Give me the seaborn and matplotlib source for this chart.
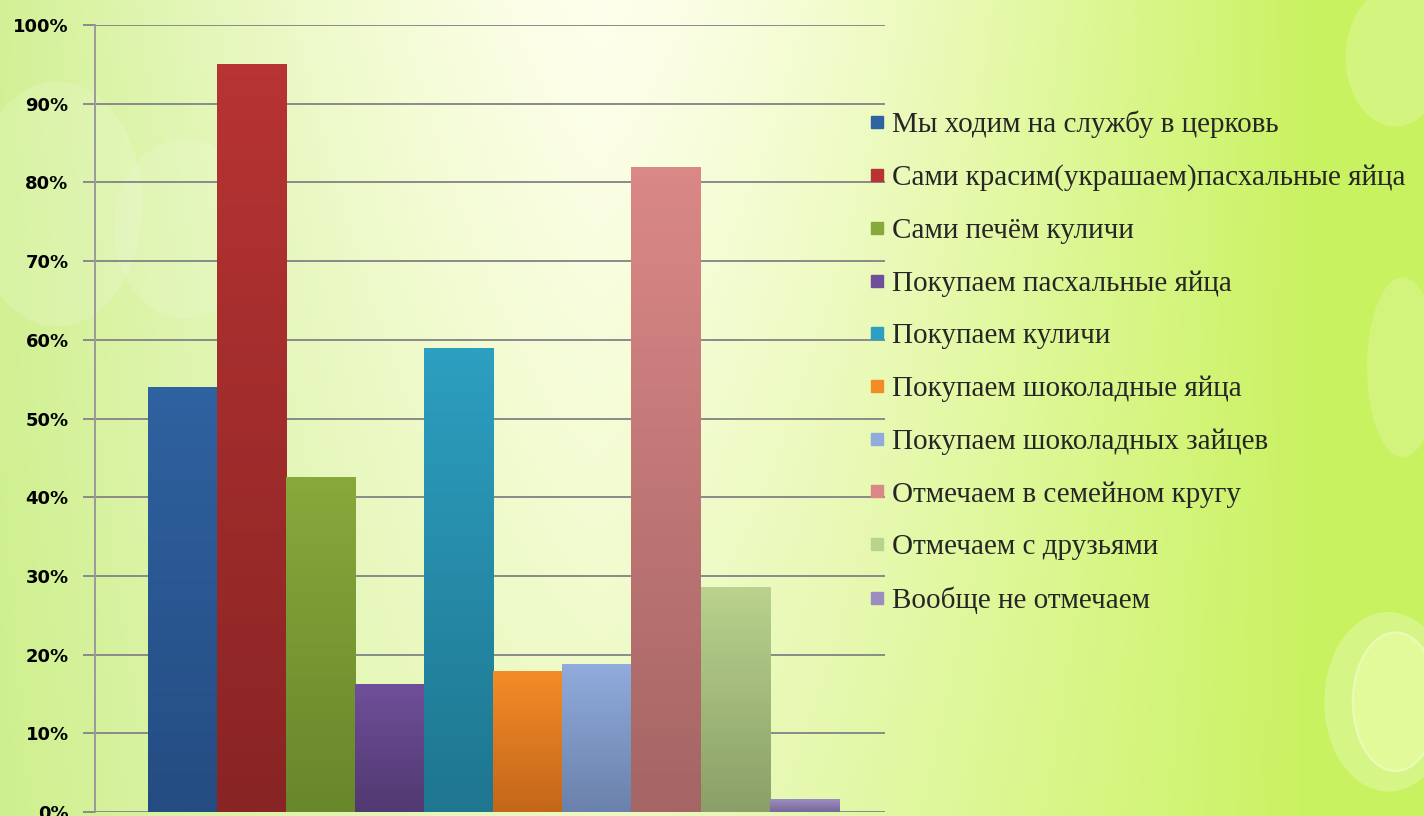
import numpy as np
import pandas as pd
import matplotlib
matplotlib.use("Agg")
import matplotlib.pyplot as plt
import seaborn as sns
from matplotlib.colors import LinearSegmentedColormap
from matplotlib.lines import Line2D
from matplotlib.patches import Ellipse
from matplotlib.ticker import PercentFormatter

# ---- data ----
series = [
    "Мы ходим на службу в церковь",
    "Сами красим(украшаем)пасхальные яйца",
    "Сами печём куличи",
    "Покупаем пасхальные яйца",
    "Покупаем куличи",
    "Покупаем шоколадные яйца",
    "Покупаем шоколадных зайцев",
    "Отмечаем в семейном кругу",
    "Отмечаем с друзьями",
    "Вообще не отмечаем",
]
values = [0.54, 0.95, 0.426, 0.163, 0.59, 0.179, 0.188, 0.82, 0.286, 0.016]
top_colors = ["#2f62a0", "#b73433", "#87a93b", "#6f4f9a", "#2d9fc0",
              "#f38b27", "#90abdc", "#da8887", "#b9d28d", "#9d8cbf"]
bot_colors = ["#244c82", "#892424", "#68872b", "#513971", "#1e7690",
              "#c4661a", "#6a82ab", "#a56564", "#8aa068", "#76689a"]
ticks = [i / 10 for i in range(11)]

df = pd.DataFrame({"cat": ["all"] * len(series), "series": series, "value": values})

sns.set_style("white")
plt.rcParams["font.family"] = ["DejaVu Sans"]

fig = plt.figure(figsize=(14.24, 8.16), dpi=100)

# background gradient
bg = fig.add_axes([0, 0, 1, 1], zorder=-10)
H, W = 204, 356
yy, xx = np.mgrid[0:1:H * 1j, 0:1:W * 1j]
d = np.abs(xx - 0.42)
t = np.clip(d / 0.5, 0, 1) ** 1.3
t = np.clip(t + 0.35 * yy * (1 - t), 0, 1)
c0 = np.array([1.0, 1.0, 0.93])
cl = np.array([0.78, 0.93, 0.50])
cr = np.array([0.79, 0.95, 0.38])
side = np.clip((xx - 0.2) / 0.5, 0, 1)[..., None]
c1 = cl[None, None, :] * (1 - side) + cr[None, None, :] * side
img = c0[None, None, :] * (1 - t[..., None]) + c1 * t[..., None]
bg.imshow(img, aspect="auto", extent=[0, 1, 0, 1], origin="upper", interpolation="bilinear")
for (cx, cy, w, h, a) in [(0.975, 0.14, 0.09, 0.22, 0.25), (0.985, 0.55, 0.05, 0.22, 0.18),
                          (0.04, 0.75, 0.12, 0.3, 0.15), (0.13, 0.72, 0.1, 0.22, 0.12),
                          (0.98, 0.93, 0.07, 0.17, 0.2)]:
    bg.add_patch(Ellipse((cx, cy), w, h, facecolor="white", alpha=a,
                         edgecolor="none", transform=bg.transAxes))
bg.add_patch(Ellipse((0.98, 0.14), 0.06, 0.17, facecolor="#f0ffb0", alpha=0.5,
                     edgecolor="#f8ffd8", linewidth=1.5, transform=bg.transAxes))
bg.set_xlim(0, 1); bg.set_ylim(0, 1)
bg.set_axis_off()

ax = fig.add_axes([95 / 1424, 4 / 816, 790 / 1424, 787 / 816])
ax.set_facecolor("none")

sns.barplot(data=df, x="cat", y="value", hue="series", hue_order=series,
            palette=top_colors, width=0.875, dodge=True, legend=False,
            linewidth=0, ax=ax, errorbar=None)

ax.set_xlim(-0.5, 0.5)
ax.set_ylim(0, 1)

# gradient fill on bars
bars = [p for p in ax.patches]
for p, ct, cb in zip(bars, top_colors, bot_colors):
    x0 = p.get_x(); w = p.get_width(); h = p.get_height()
    cmap = LinearSegmentedColormap.from_list("g", [cb, ct])
    grad = np.linspace(0, 1, 64).reshape(-1, 1)
    im = ax.imshow(grad, cmap=cmap, aspect="auto", origin="lower",
                   extent=[x0, x0 + w, 0, h], zorder=p.get_zorder() + 0.1)
    im.set_clip_path(p)
ax.set_xlim(-0.504, 0.496)
ax.set_ylim(0, 1)

ax.set_yticks(ticks)
ax.yaxis.set_major_formatter(PercentFormatter(1.0, decimals=0))
ax.grid(axis="y", color="#8a8a8a", linewidth=1.4)
ax.set_axisbelow(True)
ax.set_xticks([])
ax.set_xlabel("")
ax.set_ylabel("")
for s in ["top", "right", "bottom"]:
    ax.spines[s].set_visible(False)
ax.spines["left"].set_color("#9a9a9a")
ax.spines["left"].set_linewidth(1.4)
ax.tick_params(axis="y", left=True, length=9, width=1.4, color="#8a8a8a",
               labelsize=13, pad=10)
for lab in ax.get_yticklabels():
    lab.set_fontweight("bold")
    lab.set_color("black")

handles = [Line2D([0], [0], marker="s", linestyle="none", markersize=8,
                  markerfacecolor=c, markeredgecolor=c) for c in top_colors]
leg = fig.legend(handles, series, loc="upper left",
                 bbox_to_anchor=(857 / 1424, 1 - 99 / 816),
                 frameon=False, handlelength=0.55, handletextpad=0.25,
                 labelspacing=0.9, borderaxespad=0,
                 prop={"family": "Liberation Serif", "size": 21})

fig.savefig("out.png", dpi=100)
